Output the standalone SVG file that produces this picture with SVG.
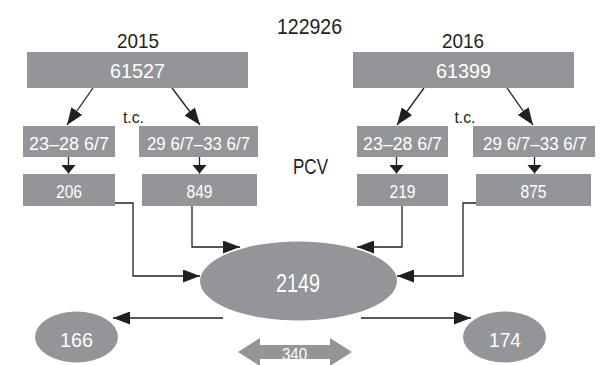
<svg xmlns="http://www.w3.org/2000/svg" width="613" height="365" viewBox="0 0 613 365">
<style>
.box{fill:#939598;}
.w{fill:#ffffff;font-family:"Liberation Sans",Arial,sans-serif;text-anchor:middle;}
.k{fill:#231f20;font-family:"Liberation Sans",Arial,sans-serif;text-anchor:middle;}
.c{fill:none;stroke:#231f20;stroke-width:1.3;}
</style>
<defs>
<marker id="arr" markerUnits="userSpaceOnUse" markerWidth="17" markerHeight="13" refX="17" refY="6.5" orient="auto">
<path d="M0,0 L17,6.5 L0,13 z" fill="#231f20"/>
</marker>
<marker id="arrS" markerUnits="userSpaceOnUse" markerWidth="9" markerHeight="15" refX="9" refY="7.5" orient="auto">
<path d="M0,0 L9,7.5 L0,15 z" fill="#231f20"/>
</marker>
</defs>
<text class="k" x="309.5" y="34" font-size="22" textLength="65" lengthAdjust="spacingAndGlyphs">122926</text>
<text class="k" x="138" y="48" font-size="21" textLength="42" lengthAdjust="spacingAndGlyphs">2015</text>
<text class="k" x="463" y="48" font-size="21" textLength="42" lengthAdjust="spacingAndGlyphs">2016</text>
<text class="k" x="133.5" y="123" font-size="17" textLength="21" lengthAdjust="spacingAndGlyphs">t.c.</text>
<text class="k" x="465" y="123" font-size="17" textLength="21" lengthAdjust="spacingAndGlyphs">t.c.</text>
<text class="k" x="310.5" y="174" font-size="21.5" textLength="35" lengthAdjust="spacingAndGlyphs">PCV</text>
<g id="n61527"><rect class="box" x="27" y="52" width="221" height="36"/><text class="w" x="137.5" y="78" font-size="21" textLength="55" lengthAdjust="spacingAndGlyphs">61527</text></g>
<g id="n61399"><rect class="box" x="353" y="52" width="221" height="36"/><text class="w" x="463.5" y="78" font-size="21" textLength="55" lengthAdjust="spacingAndGlyphs">61399</text></g>
<g id="a1"><rect class="box" x="23" y="126" width="92" height="31"/><text class="w" x="69" y="150" font-size="18" textLength="80" lengthAdjust="spacingAndGlyphs">23–28 6/7</text></g>
<g id="a2"><rect class="box" x="139" y="126" width="119" height="31"/><text class="w" x="198.5" y="150" font-size="18" textLength="103" lengthAdjust="spacingAndGlyphs">29 6/7–33 6/7</text></g>
<g id="b1"><rect class="box" x="357" y="126" width="91" height="31"/><text class="w" x="402.5" y="150" font-size="18" textLength="79" lengthAdjust="spacingAndGlyphs">23–28 6/7</text></g>
<g id="b2"><rect class="box" x="473" y="126" width="122" height="31"/><text class="w" x="535" y="150" font-size="18" textLength="104" lengthAdjust="spacingAndGlyphs">29 6/7–33 6/7</text></g>
<g id="n206"><rect class="box" x="23" y="174" width="92" height="32"/><text class="w" x="69" y="198" font-size="18" textLength="26" lengthAdjust="spacingAndGlyphs">206</text></g>
<g id="n849"><rect class="box" x="142" y="174" width="115" height="32"/><text class="w" x="199.5" y="198" font-size="18" textLength="26" lengthAdjust="spacingAndGlyphs">849</text></g>
<g id="n219"><rect class="box" x="357" y="174" width="91" height="32"/><text class="w" x="402.5" y="198" font-size="18" textLength="26" lengthAdjust="spacingAndGlyphs">219</text></g>
<g id="n875"><rect class="box" x="476" y="174" width="115" height="32"/><text class="w" x="533.5" y="198" font-size="18" textLength="26" lengthAdjust="spacingAndGlyphs">875</text></g>
<g id="n2149"><ellipse class="box" cx="298.5" cy="281" rx="98.5" ry="39.5"/><text class="w" x="298" y="292" font-size="25" textLength="44" lengthAdjust="spacingAndGlyphs">2149</text></g>
<g id="n166"><ellipse class="box" cx="76.5" cy="337" rx="41.5" ry="25.5"/><text class="w" x="76.5" y="347" font-size="21" textLength="33" lengthAdjust="spacingAndGlyphs">166</text></g>
<g id="n174"><ellipse class="box" cx="504.5" cy="337" rx="41.5" ry="25.5"/><text class="w" x="505" y="347" font-size="21" textLength="32" lengthAdjust="spacingAndGlyphs">174</text></g>
<g id="n340"><polygon class="box" points="238,352 260,338 260,345 330,345 330,338 352,352 330,366 330,359 260,359 260,366"/><text class="w" x="294.5" y="359.5" font-size="17" textLength="25" lengthAdjust="spacingAndGlyphs">340</text></g>
<g id="connectors">
<line class="c" x1="93" y1="88" x2="67" y2="125" marker-end="url(#arr)"/>
<line class="c" x1="172" y1="88" x2="200" y2="125" marker-end="url(#arr)"/>
<line class="c" x1="424" y1="88" x2="397" y2="125" marker-end="url(#arr)"/>
<line class="c" x1="507" y1="88" x2="533" y2="125" marker-end="url(#arr)"/>
<line class="c" x1="68.5" y1="157" x2="68.5" y2="173.5" marker-end="url(#arrS)"/>
<line class="c" x1="199.5" y1="157" x2="199.5" y2="173.5" marker-end="url(#arrS)"/>
<line class="c" x1="396.5" y1="157" x2="396.5" y2="173.5" marker-end="url(#arrS)"/>
<line class="c" x1="534.5" y1="157" x2="534.5" y2="173.5" marker-end="url(#arrS)"/>
<polyline class="c" points="115,203 133,203 133,276 200,276" marker-end="url(#arr)"/>
<polyline class="c" points="192,206 192,247 240,247" marker-end="url(#arr)"/>
<polyline class="c" points="402,206 402,247 357,247" marker-end="url(#arr)"/>
<polyline class="c" points="476,203 463,203 463,276 397,276" marker-end="url(#arr)"/>
<line class="c" x1="223" y1="318" x2="113" y2="318" marker-end="url(#arr)"/>
<line class="c" x1="361" y1="318" x2="471" y2="318" marker-end="url(#arr)"/>
</g>
</svg>
